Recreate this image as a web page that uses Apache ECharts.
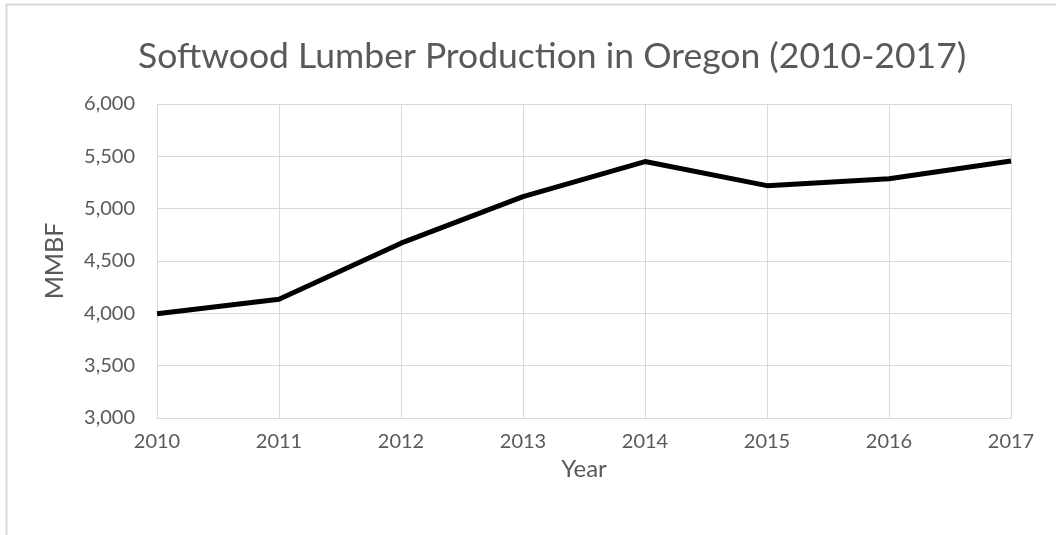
<!DOCTYPE html>
<html>
<head>
<meta charset="utf-8">
<script src="https://cdn.jsdelivr.net/npm/echarts@6/dist/echarts.min.js"></script>
<style>
  html, body { margin: 0; padding: 0; background: #fff; }
  #chart { width: 1056px; height: 535px; }
</style>
</head>
<body>
<div id="chart"></div>
<script>
const years = ['2010', '2011', '2012', '2013', '2014', '2015', '2016', '2017'];
const production = [3995, 4135, 4670, 5115, 5450, 5220, 5285, 5455];
const yTicks = { min: 3000, max: 6000, step: 500 };

const chart = echarts.init(document.getElementById('chart'));
const font = 'Lato, "Open Sans", sans-serif';
const grey = '#595959';

const option = {
  backgroundColor: '#fff',
  animation: false,
  title: {
    text: 'Softwood Lumber Production in Oregon (2010-2017)',
    left: 133,
    top: 34,
    textStyle: { fontFamily: font, fontSize: 35.5, fontWeight: 'normal', color: grey }
  },
  graphic: [
    {
      type: 'rect',
      shape: { x: 6.5, y: 4.5, width: 1100, height: 600 },
      style: { fill: 'none', stroke: '#d9d9d9', lineWidth: 2 }
    }
  ],
  grid: { left: 157, right: 45, top: 104, bottom: 117 },
  xAxis: {
    type: 'category',
    data: years,
    boundaryGap: false,
    name: 'Year',
    nameLocation: 'middle',
    nameGap: 37,
    nameTextStyle: { fontFamily: font, fontSize: 24, color: grey },
    axisLine: { lineStyle: { color: '#d9d9d9', width: 1 } },
    axisTick: { show: false },
    axisLabel: { fontFamily: font, fontSize: 20, color: grey, margin: 14 },
    splitLine: { show: true, lineStyle: { color: '#d9d9d9', width: 1 } }
  },
  yAxis: {
    type: 'value',
    min: yTicks.min,
    max: yTicks.max,
    interval: yTicks.step,
    name: 'MMBF',
    nameLocation: 'middle',
    nameGap: 90,
    nameTextStyle: { fontFamily: font, fontSize: 25, color: grey },
    axisLine: { show: false },
    axisTick: { show: false },
    axisLabel: {
      fontFamily: font, fontSize: 20, color: grey, margin: 22,
      formatter: v => v.toLocaleString('en-US')
    },
    splitLine: { lineStyle: { color: '#d9d9d9', width: 1 } }
  },
  series: [
    {
      name: 'MMBF',
      type: 'line',
      data: production,
      symbol: 'none',
      lineStyle: { color: '#000', width: 5, join: 'round' }
    }
  ]
};

chart.setOption(option);
window.addEventListener('resize', function () {
  chart.resize();
});
</script>
</body>
</html>
